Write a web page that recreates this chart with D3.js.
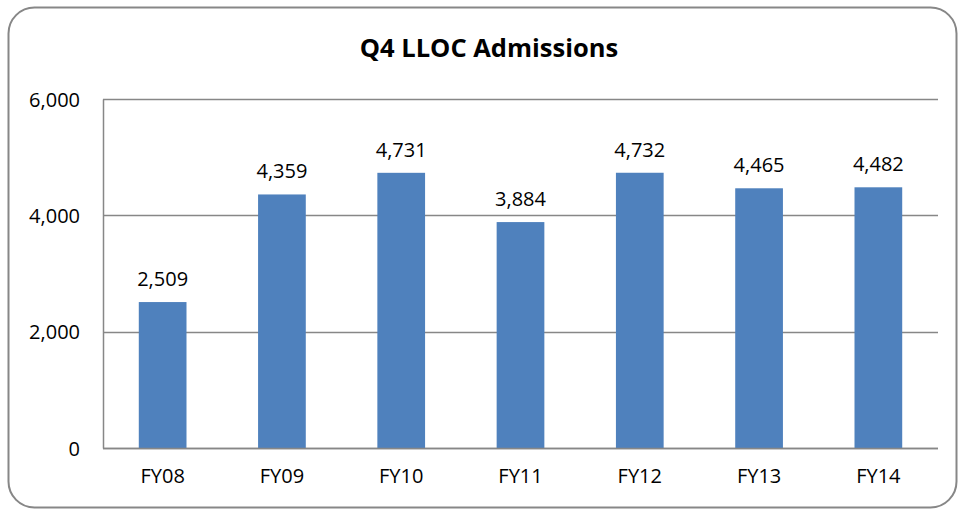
<!DOCTYPE html>
<html>
<head>
<meta charset="utf-8">
<script src="https://cdn.jsdelivr.net/npm/d3@7"></script>
<style>
  body { margin: 0; background: #fff; }
  svg text { font-family: "Open Sans", "Liberation Sans", sans-serif; fill: #000; }
</style>
</head>
<body>
<div id="chart"><svg width="958" height="510"></svg></div>
<script>
const years = ["FY08", "FY09", "FY10", "FY11", "FY12", "FY13", "FY14"];
const admissions = [2509, 4359, 4731, 3884, 4732, 4465, 4482];
const yTicks = [0, 2000, 4000, 6000];

const data = years.map((y, i) => ({ year: y, value: admissions[i] }));

const svg = d3.select("#chart svg");
const margin = { left: 103, right: 20, top: 99, bottom: 62 };
const width = +svg.attr("width");
const height = +svg.attr("height");

// outer frame
svg.append("rect")
    .attr("x", 8.5).attr("y", 7.5)
    .attr("width", 948).attr("height", 500)
    .attr("rx", 26).attr("ry", 26)
    .attr("fill", "#fff")
    .attr("stroke", "#878787")
    .attr("stroke-width", 2);

const xScale = d3.scaleBand()
    .domain(years)
    .range([margin.left, width - margin.right])
    .paddingInner(0.6)
    .paddingOuter(0.3);

const yScale = d3.scaleLinear()
    .domain([0, 6000])
    .range([height - margin.bottom, margin.top]);

// grid lines
svg.append("g")
    .selectAll("line")
    .data(yTicks)
    .enter()
    .append("line")
    .attr("x1", margin.left)
    .attr("x2", width - margin.right)
    .attr("y1", d => Math.round(yScale(d)) + 0.5)
    .attr("y2", d => Math.round(yScale(d)) + 0.5)
    .attr("stroke", "#878787")
    .attr("stroke-width", 1.5);

// y axis
const yAxis = d3.axisLeft(yScale)
    .tickValues(yTicks)
    .tickFormat(d3.format(","))
    .tickSize(0)
    .tickPadding(23);

svg.append("g")
    .attr("class", "y-axis")
    .attr("transform", `translate(${margin.left},0)`)
    .call(yAxis)
    .call(g => g.select(".domain").attr("stroke", "#878787").attr("stroke-width", 1.5))
    .selectAll("text")
    .style("font-size", "20px")
    .attr("dy", "0.35em");

// bars
svg.selectAll(".bar")
    .data(data)
    .enter()
    .append("rect")
    .attr("class", "bar")
    .attr("x", d => xScale(d.year))
    .attr("y", d => yScale(d.value))
    .attr("width", xScale.bandwidth())
    .attr("height", d => yScale(0) - yScale(d.value))
    .attr("fill", "#4f81bd");

// value labels
svg.selectAll(".bar-label")
    .data(data)
    .enter()
    .append("text")
    .attr("class", "bar-label")
    .attr("x", d => xScale(d.year) + xScale.bandwidth() / 2)
    .attr("y", d => yScale(d.value) - 16)
    .attr("text-anchor", "middle")
    .style("font-size", "20px")
    .text(d => d3.format(",")(d.value));

// x axis
const xAxis = d3.axisBottom(xScale).tickSize(0).tickPadding(21);
svg.append("g")
    .attr("class", "x-axis")
    .attr("transform", `translate(0,${height - margin.bottom})`)
    .call(xAxis)
    .call(g => g.select(".domain").remove())
    .selectAll("text")
    .style("font-size", "20px");

svg.append("line")
    .attr("x1", margin.left).attr("x2", width - margin.right)
    .attr("y1", Math.round(yScale(0)) + 0.5).attr("y2", Math.round(yScale(0)) + 0.5)
    .attr("stroke", "#878787").attr("stroke-width", 1.5);

// title
svg.append("text")
    .attr("x", 489)
    .attr("y", 57)
    .attr("text-anchor", "middle")
    .style("font-size", "25.5px")
    .style("font-weight", "bold")
    .text("Q4 LLOC Admissions");
</script>
</body>
</html>
